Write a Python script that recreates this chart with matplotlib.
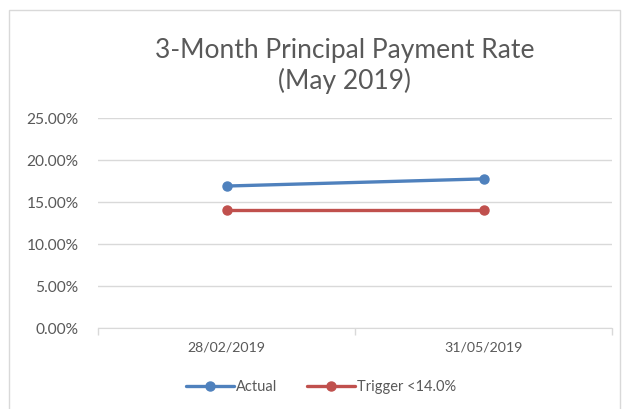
import matplotlib.pyplot as plt
from matplotlib.patches import Rectangle
from matplotlib.ticker import FuncFormatter, FixedLocator

plt.rcParams["font.family"] = ["Lato", "DejaVu Sans"]

dates = ["28/02/2019", "31/05/2019"]
actual = [16.9, 17.75]
trigger = [14.0, 14.0]
title = "3-Month Principal Payment Rate\n(May 2019)"

text_col = "#595959"
blue = "#4F81BD"
red = "#C0504D"

fig = plt.figure(figsize=(6.28, 4.09), dpi=100)
ax = fig.add_axes([98 / 628, 1 - 328 / 409, 514 / 628, 210 / 409])

x = list(range(len(dates)))
ax.plot(x, actual, color=blue, lw=2.4, marker="o", ms=6.5, label="Actual", solid_capstyle="round")
ax.plot(x, trigger, color=red, lw=2.4, marker="o", ms=6.5, label="Trigger <14.0%", solid_capstyle="round")

ax.set_xlim(-0.5, 1.5)
ax.set_ylim(0, 25)
ax.set_yticks([0, 5, 10, 15, 20, 25])
ax.yaxis.set_major_formatter(FuncFormatter(lambda v, p: "{:.2f}%".format(v)))
ax.set_xticks(x)
ax.set_xticklabels(dates)
ax.xaxis.set_minor_locator(FixedLocator([-0.5, 0.5, 1.5]))
ax.tick_params(axis="x", which="major", length=0, pad=10, labelsize=10.2, labelcolor=text_col)
ax.tick_params(axis="x", which="minor", length=5, color="#D9D9D9", width=1)
ax.tick_params(axis="y", length=0, pad=14, labelsize=11.2, labelcolor=text_col)

ax.grid(axis="y", color="#D9D9D9", lw=1)
ax.set_axisbelow(True)
for s in ["top", "right", "left"]:
    ax.spines[s].set_visible(False)
ax.spines["bottom"].set_color("#D9D9D9")

fig.text(345 / 628, 1 - 66 / 409, title, ha="center", va="center", fontsize=19,
         color=text_col, linespacing=1.25)

fig.legend(loc="center", bbox_to_anchor=(321 / 628, 1 - 387 / 409), ncol=2, frameon=False,
           fontsize=10.5, labelcolor=text_col, handlelength=3.3, handletextpad=0.15, columnspacing=2)

fig.patches.append(Rectangle((9 / 628, -0.05), 611 / 628, 1.05 - 10 / 409, transform=fig.transFigure,
                             fill=False, edgecolor="#D9D9D9", lw=1))

fig.savefig("out.png", dpi=100)
